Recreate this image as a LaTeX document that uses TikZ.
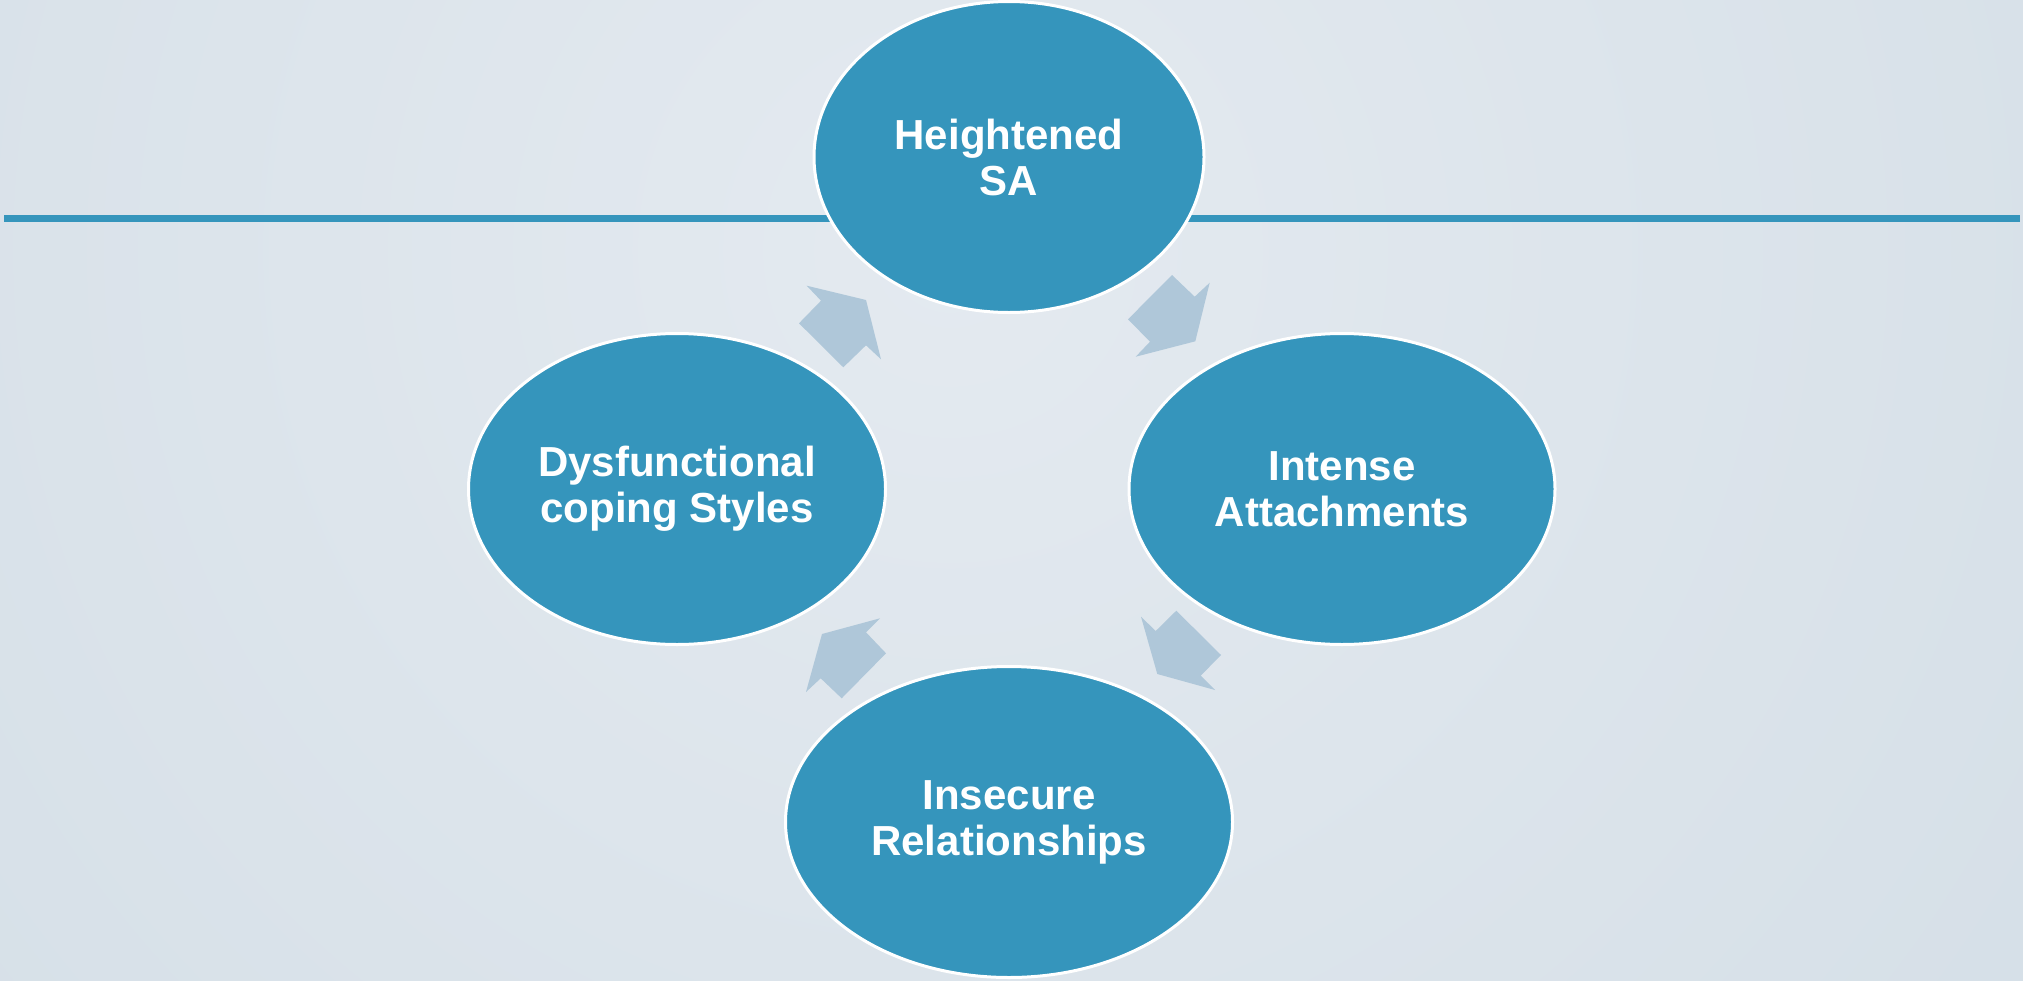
\documentclass[tikz,border=0pt]{standalone}
\usepackage{fontspec}
\setmainfont{Liberation Sans}
\usetikzlibrary{shapes.geometric}
\definecolor{accent}{RGB}{53,149,188}
\definecolor{arrowfill}{RGB}{175,199,217}
\definecolor{bgin}{RGB}{228,234,240}
\definecolor{bgout}{RGB}{206,218,227}
\tikzset{
  bubble/.style={ellipse, fill=accent, draw=white, line width=3pt,
    inner sep=0pt, text=white, align=center,
    font=\bfseries\fontsize{42}{46}\selectfont, minimum height=311pt},
  blockarrow/.style={fill=arrowfill, draw=none},
  rule/.style={draw=accent, line width=7pt}
}
\begin{document}
\begin{tikzpicture}[x=1pt,y=-1pt]
\useasboundingbox (0,0) rectangle (2023,980);
% soft radial background
\begin{scope}
  \clip (0,0) rectangle (2023,980);
  \shade[inner color=bgin, outer color=bgout] (950,250) circle (2000);
\end{scope}

% header rule
\coordinate (ruleL) at (4,218.5);
\coordinate (ruleR) at (2020,218.5);
\draw[rule] (ruleL) -- (ruleR);

% cycle stages
\node[bubble, minimum width=390pt] (sa)  at (1009,157) {Heightened\\SA};
\node[bubble, minimum width=426pt] (att) at (1342,489) {Intense\\Attachments};
\node[bubble, minimum width=447pt] (rel) at (1009,822) {Insecure\\Relationships};
\node[bubble, minimum width=417pt] (dys) at (677,489) {Dysfunctional\\coping Styles};

% block arrows between the stages
\fill[blockarrow] (799,323.3) -- (821,300.7) -- (806.7,285.7) -- (866,300)
  -- (881,359.3) -- (866,345.3) -- (843.3,367.3) -- cycle;
\fill[blockarrow] (1128,319.3) -- (1172,275) -- (1194.7,296.7) -- (1209.7,282.7)
  -- (1195.3,341.3) -- (1135.7,356.7) -- (1150,341.7) -- cycle;
\fill[blockarrow] (1141,616.7) -- (1155.7,631) -- (1176.3,610.7) -- (1221,655)
  -- (1200.7,675.7) -- (1215,690) -- (1157.3,674) -- cycle;
\fill[blockarrow] (880,618.3) -- (866,632.3) -- (886,653.3) -- (841.7,698.3)
  -- (820.7,678.3) -- (806,692) -- (822,634) -- cycle;
\end{tikzpicture}
\end{document}
